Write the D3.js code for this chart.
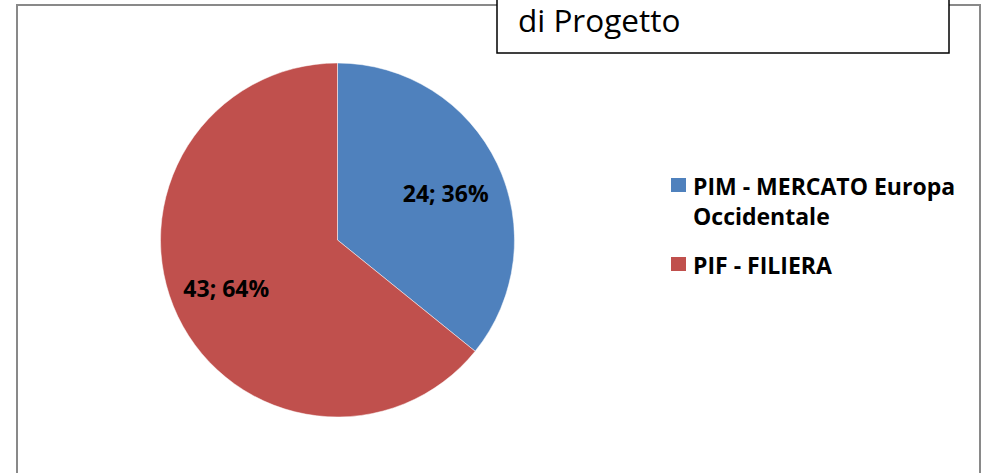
<!DOCTYPE html>
<html>
<head>
<meta charset="utf-8">
<script src="https://cdn.jsdelivr.net/npm/d3@7"></script>
<style>
  body { margin: 0; background: #fff; }
  svg { display: block; font-family: "Open Sans", Lato, sans-serif; }
</style>
</head>
<body>
<div id="chart-area"></div>
<script>
// data
var categories = ["PIM - MERCATO Europa Occidentale", "PIF - FILIERA"];
var legendLines = [["PIM - MERCATO Europa", "Occidentale"], ["PIF - FILIERA"]];
var values = [24, 43];
var colors = ["#4F81BD", "#C0504D"];
var titleLines = ["di Progetto"];

var width = 982, height = 473;

var svg = d3.select("#chart-area").append("svg")
  .attr("width", width)
  .attr("height", height);

// outer chart border
svg.append("rect")
  .attr("x", 17).attr("y", 5)
  .attr("width", 963).attr("height", 500)
  .attr("fill", "none")
  .attr("stroke", "#898989")
  .attr("stroke-width", 2);

// title box (cut off at top)
svg.append("rect")
  .attr("x", 497).attr("y", -40)
  .attr("width", 452).attr("height", 93)
  .attr("fill", "#fff")
  .attr("stroke", "#000")
  .attr("stroke-width", 1.5);

svg.selectAll(".title")
  .data(titleLines)
  .enter().append("text")
    .attr("class", "title")
    .attr("x", 518)
    .attr("y", function(d, i) { return 32 + i * 38; })
    .attr("font-size", "31.5px")
    .attr("fill", "#000")
    .text(function(d) { return d; });

// pie
var cx = 337.5, cy = 240, r = 177;
var total = d3.sum(values);

var pie = d3.pie().sort(null);
var arc = d3.arc().innerRadius(0).outerRadius(r);

var g = svg.append("g")
  .attr("transform", "translate(" + cx + "," + cy + ")");

var arcs = pie(values);

g.selectAll("path")
  .data(arcs)
  .enter().append("path")
    .attr("d", arc)
    .attr("fill", function(d, i) { return colors[i]; })
    .attr("stroke", "#fff")
    .attr("stroke-width", 0.5);

// data labels
var labelArc = d3.arc().innerRadius(r * 0.69).outerRadius(r * 0.69);
var labelOffset = [[-2, 14.6], [-1, 4.4]];

g.selectAll(".lbl")
  .data(arcs)
  .enter().append("text")
    .attr("class", "lbl")
    .attr("x", function(d, i) { return labelArc.centroid(d)[0] + labelOffset[i][0]; })
    .attr("y", function(d, i) { return labelArc.centroid(d)[1] + labelOffset[i][1]; })
    .attr("text-anchor", "middle")
    .attr("font-size", "23px")
    .attr("font-weight", "bold")
    .attr("fill", "#000")
    .text(function(d) { return d.data + "; " + Math.round(d.data / total * 100) + "%"; });

// legend
var legendY = d3.scalePoint().domain(categories).range([185, 264]);

var leg = svg.selectAll(".legend")
  .data(categories)
  .enter().append("g")
    .attr("class", "legend")
    .attr("transform", function(d) { return "translate(671," + legendY(d) + ")"; });

leg.append("rect")
  .attr("x", 0).attr("y", -7)
  .attr("width", 15).attr("height", 14)
  .attr("fill", function(d, i) { return colors[i]; });

leg.each(function(d, i) {
  d3.select(this).selectAll("text")
    .data(legendLines[i])
    .enter().append("text")
      .attr("x", 22)
      .attr("y", function(t, j) { return 9.5 + j * 30; })
      .attr("font-size", "23px")
      .attr("font-weight", "bold")
      .attr("fill", "#000")
      .text(function(t) { return t; });
});
</script>
</body>
</html>
